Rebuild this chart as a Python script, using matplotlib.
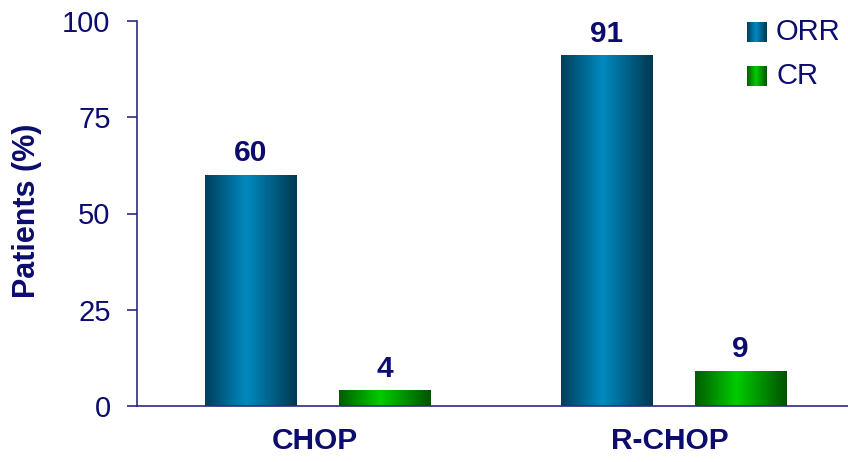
import matplotlib
matplotlib.use("Agg")
import matplotlib.pyplot as plt
import numpy as np
from matplotlib.colors import LinearSegmentedColormap

# data
categories = ["CHOP", "R-CHOP"]
series_names = ["ORR", "CR"]
orr = [60, 91]
cr = [4, 9]

NAVY = "#0c0c6e"
plt.rcParams["font.family"] = ["Liberation Sans", "DejaVu Sans"]

# cylinder-like horizontal shading
blue_cmap = LinearSegmentedColormap.from_list(
    "blue", [(0, "#003e5a"), (0.45, "#008ac0"), (1, "#003850")])
green_cmap = LinearSegmentedColormap.from_list(
    "green", [(0, "#005c00"), (0.45, "#00cc00"), (1, "#005200")])
grad = np.linspace(0, 1, 256).reshape(1, -1)

fig = plt.figure(figsize=(8.48, 4.62), dpi=100)
ax = fig.add_axes([137 / 848, 56 / 462, 711 / 848, 385 / 462])

x = np.arange(len(categories)) + 0.5
width = 0.256


def shaded_bars(xs, vals, cmap):
    bars = ax.bar(xs, vals, width, color="none", edgecolor="none")
    for b, v in zip(bars, vals):
        x0, y0 = b.get_x(), b.get_y()
        ax.imshow(grad, cmap=cmap, aspect="auto", zorder=2,
                  extent=(x0, x0 + b.get_width(), y0, y0 + b.get_height()))
        ax.annotate(str(v), (x0 + b.get_width() / 2, y0 + b.get_height()),
                    xytext=(0, 10), textcoords="offset points",
                    ha="center", va="baseline", fontsize=21.5,
                    fontweight="bold", color=NAVY)
    return bars


shaded_bars(x - 0.18, orr, blue_cmap)
shaded_bars(x + 0.197, cr, green_cmap)

ax.set_xlim(0, len(categories))
ax.set_ylim(0, 100)
ax.set_yticks([0, 25, 50, 75, 100])
ax.set_xticks(x)
ax.set_xticklabels(categories, fontsize=21.5, fontweight="bold", color=NAVY)
ax.tick_params(axis="x", length=0, pad=15)
ax.tick_params(axis="y", length=7, width=1.2, color="#2b2b80",
               labelsize=21, labelcolor=NAVY, pad=12)
for s in ["top", "right"]:
    ax.spines[s].set_visible(False)
for s in ["left", "bottom"]:
    ax.spines[s].set_color("#2b2b80")
    ax.spines[s].set_linewidth(1.2)

fig.text(27 / 848, 1 - 211 / 462, "Patients (%)", rotation=90,
         ha="center", va="center", fontsize=22, fontweight="bold", color=NAVY)

# legend with shaded squares
for i, (name, cmap) in enumerate(zip(series_names, [blue_cmap, green_cmap])):
    top = 22 + i * 44
    lax = fig.add_axes([747 / 848, 1 - (top + 20) / 462, 20 / 848, 20 / 462])
    lax.imshow(grad, cmap=cmap, aspect="auto")
    lax.axis("off")
    fig.text(776 / 848, 1 - (top + 10) / 462, name, ha="left", va="center",
             fontsize=21, color=NAVY)

fig.savefig("out.png", dpi=100)
